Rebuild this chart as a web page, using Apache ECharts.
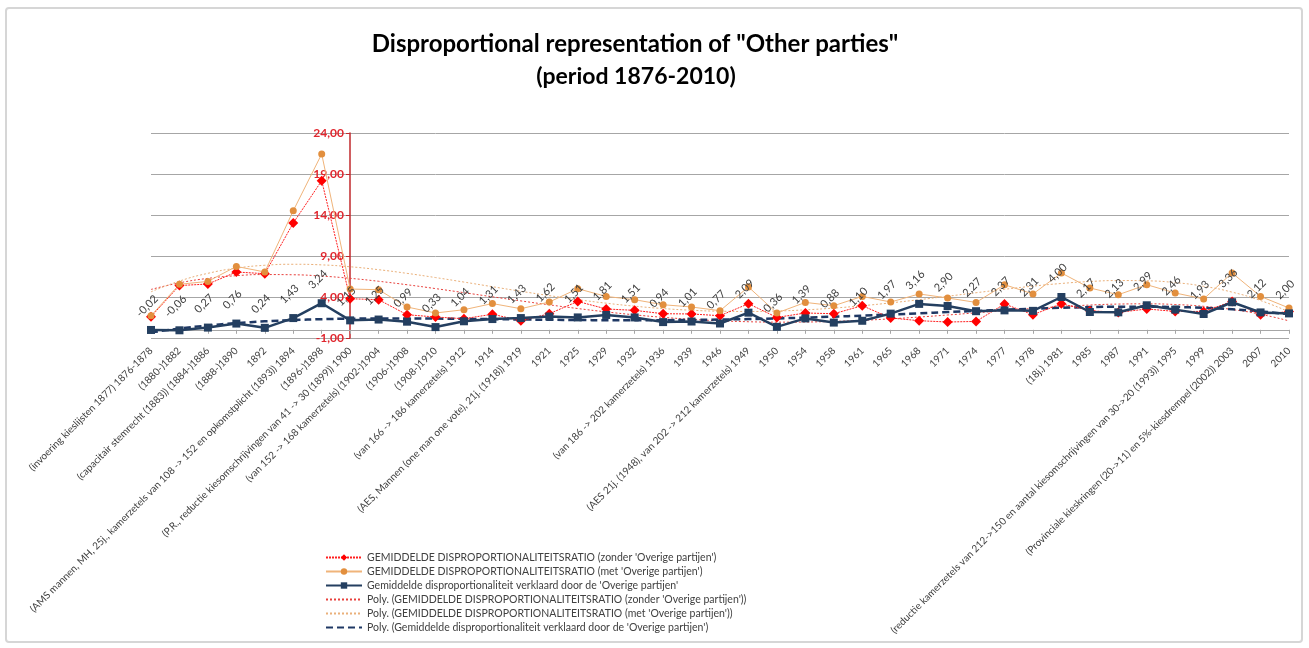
<!DOCTYPE html>
<html>
<head>
<meta charset="utf-8">
<script src="https://cdn.jsdelivr.net/npm/echarts@6/dist/echarts.min.js"></script>
<style>
  html, body { margin: 0; padding: 0; background: #fff; }
  #chart { width: 1309px; height: 648px; }
</style>
</head>
<body>
<div id="chart"></div>
<script>
// election periods (x axis)
const categories = [
    "(invoering kieslijsten 1877) 1876-1878",
    "(1880-)1882",
    "(capacitair stemrecht (1883)) (1884-)1886",
    "(1888-)1890",
    "1892",
    "(AMS mannen, MH, 25j., kamerzetels van 108 -> 152 en opkomstplicht (1893)) 1894",
    "(1896-)1898",
    "(P.R., reductie kiesomschrijvingen van 41 -> 30 (1899)) 1900",
    "(van 152 -> 168 kamerzetels) (1902-)1904",
    "(1906-)1908",
    "(1908-)1910",
    "(van 166 -> 186 kamerzetels) 1912",
    "1914",
    "(AES, Mannen (one man one vote), 21j. (1918)) 1919",
    "1921",
    "1925",
    "1929",
    "1932",
    "(van 186 -> 202 kamerzetels) 1936",
    "1939",
    "1946",
    "(AES 21j. (1948), van 202 -> 212 kamerzetels) 1949",
    "1950",
    "1954",
    "1958",
    "1961",
    "1965",
    "1968",
    "1971",
    "1974",
    "1977",
    "1978",
    "(18j.) 1981",
    "1985",
    "1987",
    "1991",
    "(reductie kamerzetels van 212->150 en aantal kiesomschrijvingen van 30->20 (1993)) 1995",
    "1999",
    "(Provinciale kieskringen (20->11) en 5%-kiesdrempel (2002)) 2003",
    "2007",
    "2010"
];

const zonderOverige = [
    1.6, 5.4, 5.58, 7.05, 6.84, 13.02, 18.18, 3.79, 3.67, 1.84,
    1.56, 1.35, 1.9, 1.11, 1.96, 3.46, 2.54, 2.37, 1.96, 1.93,
    1.72, 3.18, 1.51, 2.05, 1.96, 2.94, 1.44, 1.11, 0.95, 1.02,
    3.15, 1.84, 3.18, 2.33, 2.12, 2.54, 2.24, 2.24, 3.46, 1.84,
    2.24
];

const metOverige = [
    1.72, 5.55, 5.9, 7.73, 7.05, 14.52, 21.44, 4.97, 4.89, 2.78,
    2.05, 2.45, 3.2, 2.57, 3.39, 5.01, 4.07, 3.67, 3.06, 2.78,
    2.33, 5.22, 2.05, 3.34, 2.94, 4.07, 3.39, 4.37, 3.88, 3.34,
    5.5, 4.37, 6.93, 5.1, 4.28, 5.5, 4.49, 3.76, 6.93, 4.07,
    2.66
];

const verklaardOverige = [
    -0.02, -0.06, 0.27, 0.76, 0.24, 1.43, 3.24, 1.15, 1.25, 0.99,
    0.33, 1.04, 1.31, 1.43, 1.62, 1.51, 1.81, 1.51, 0.94, 1.01,
    0.77, 2.09, 0.36, 1.39, 0.88, 1.10, 1.97, 3.16, 2.90, 2.27,
    2.37, 2.31, 4.00, 2.17, 2.13, 2.99, 2.46, 1.93, 3.36, 2.12,
    2.00
];

const yTicks = [-1, 4, 9, 14, 19, 24];

const nameZonder = "GEMIDDELDE DISPROPORTIONALITEITSRATIO (zonder 'Overige partijen')";
const nameMet = "GEMIDDELDE DISPROPORTIONALITEITSRATIO (met 'Overige partijen')";
const nameVerklaard = "Gemiddelde disproportionaliteit verklaard door de 'Overige partijen'";

// least squares polynomial trend (like Excel "Poly." trendline)
function polyTrend(ys, order) {
    const n = ys.length;
    const half = (n - 1) / 2;
    const xs = ys.map((_, i) => (i - half) / half);
    const m = order + 1;
    const A = [];
    for (let r = 0; r < m; r++) A.push(new Array(m + 1).fill(0));
    for (let k = 0; k < n; k++) {
        const p = [];
        let v = 1;
        for (let j = 0; j < m; j++) { p.push(v); v *= xs[k]; }
        for (let r = 0; r < m; r++) {
            for (let c = 0; c < m; c++) A[r][c] += p[r] * p[c];
            A[r][m] += p[r] * ys[k];
        }
    }
    for (let col = 0; col < m; col++) {
        let piv = col;
        for (let r = col + 1; r < m; r++) if (Math.abs(A[r][col]) > Math.abs(A[piv][col])) piv = r;
        [A[col], A[piv]] = [A[piv], A[col]];
        for (let r = 0; r < m; r++) {
            if (r === col) continue;
            const f = A[r][col] / A[col][col];
            for (let c = col; c <= m; c++) A[r][c] -= f * A[col][c];
        }
    }
    const coef = A.map((row, i) => row[m] / row[i]);
    return xs.map(x => {
        let s = 0, v = 1;
        for (let j = 0; j < m; j++) { s += coef[j] * v; v *= x; }
        return +s.toFixed(3);
    });
}

const comma = v => Number(v).toFixed(2).replace(".", ",");
const FONT = "Lato, 'Open Sans', sans-serif";

const chart = echarts.init(document.getElementById("chart"));

chart.setOption({
    animation: false,
    backgroundColor: "#ffffff",
    textStyle: { fontFamily: FONT },
    graphic: [{
        type: "rect",
        shape: { x: 6, y: 8, width: 1296, height: 634, r: 3 },
        style: { fill: "none", stroke: "#d6d6d6", lineWidth: 2 },
        silent: true
    }],
    title: [
        {
            text: 'Disproportional representation of "Other parties"',
            left: 630, top: 27, textAlign: "center",
            textStyle: { fontSize: 24, fontWeight: "bold", color: "#000", fontFamily: FONT }
        },
        {
            text: "(period 1876-2010)",
            left: 631, top: 60, textAlign: "center",
            textStyle: { fontSize: 23, fontWeight: "bold", color: "#000", fontFamily: FONT }
        }
    ],
    legend: {
        orient: "vertical",
        left: 320, top: 547,
        itemWidth: 36, itemHeight: 8, itemGap: 3,
        textStyle: { fontSize: 10.5, color: "#404040", fontFamily: FONT },
        data: [nameZonder, nameMet, nameVerklaard,
            "Poly. (" + nameZonder + ")", "Poly. (" + nameMet + ")", "Poly. (" + nameVerklaard + ")"]
    },
    grid: { left: 151, right: 20, top: 133, bottom: 310, containLabel: false },
    xAxis: {
        type: "category",
        data: categories,
        boundaryGap: false,
        axisLine: { lineStyle: { color: "#a6a6a6" } },
        axisTick: { show: true, alignWithLabel: true, length: 4, lineStyle: { color: "#a6a6a6" } },
        axisLabel: { interval: 0, rotate: 45, fontSize: 10, color: "#404040", margin: 11, fontFamily: FONT }
    },
    yAxis: {
        type: "value",
        min: yTicks[0],
        max: yTicks[yTicks.length - 1],
        interval: 5,
        offset: -199,
        axisLine: { show: true, lineStyle: { color: "#c0282d", width: 1.5 } },
        axisTick: { show: true, length: 4, lineStyle: { color: "#c0282d" } },
        axisLabel: { formatter: comma, color: "#e0262e", fontSize: 12, fontWeight: "bold", margin: 6, fontFamily: FONT },
        splitLine: { lineStyle: { color: "#a6a6a6", width: 1 } }
    },
    series: [
        {
            name: "Poly. (" + nameZonder + ")",
            type: "line", data: polyTrend(zonderOverige, 4), smooth: true,
            symbol: "none", z: 2,
            itemStyle: { color: "rgba(0,0,0,0)" },
            lineStyle: { color: "#e8403c", width: 1, type: [2, 2] }
        },
        {
            name: "Poly. (" + nameMet + ")",
            type: "line", data: polyTrend(metOverige, 4), smooth: true,
            symbol: "none", z: 2,
            itemStyle: { color: "rgba(0,0,0,0)" },
            lineStyle: { color: "#eab07a", width: 1, type: [2, 2] }
        },
        {
            name: "Poly. (" + nameVerklaard + ")",
            type: "line", data: polyTrend(verklaardOverige, 4), smooth: true,
            symbol: "none", z: 3,
            itemStyle: { color: "rgba(0,0,0,0)" },
            lineStyle: { color: "#1f3864", width: 2.5, type: [7, 4] }
        },
        {
            name: nameZonder,
            type: "line", data: zonderOverige, z: 4,
            symbol: "diamond", symbolSize: 10,
            itemStyle: { color: "#ff0000" },
            lineStyle: { color: "#ff2020", width: 1, type: [2, 1] }
        },
        {
            name: nameMet,
            type: "line", data: metOverige, z: 4,
            symbol: "circle", symbolSize: 7,
            itemStyle: { color: "#e28f3e" },
            lineStyle: { color: "#f0b47a", width: 1 }
        },
        {
            name: nameVerklaard,
            type: "line", data: verklaardOverige, z: 5,
            symbol: "rect", symbolSize: 8,
            itemStyle: { color: "#243f60" },
            lineStyle: { color: "#243f60", width: 2.5 },
            label: {
                show: true, position: "top", distance: 16, rotate: 45,
                formatter: p => comma(p.value),
                fontSize: 11, color: "#404040", fontFamily: FONT
            }
        }
    ]
});
</script>
</body>
</html>
